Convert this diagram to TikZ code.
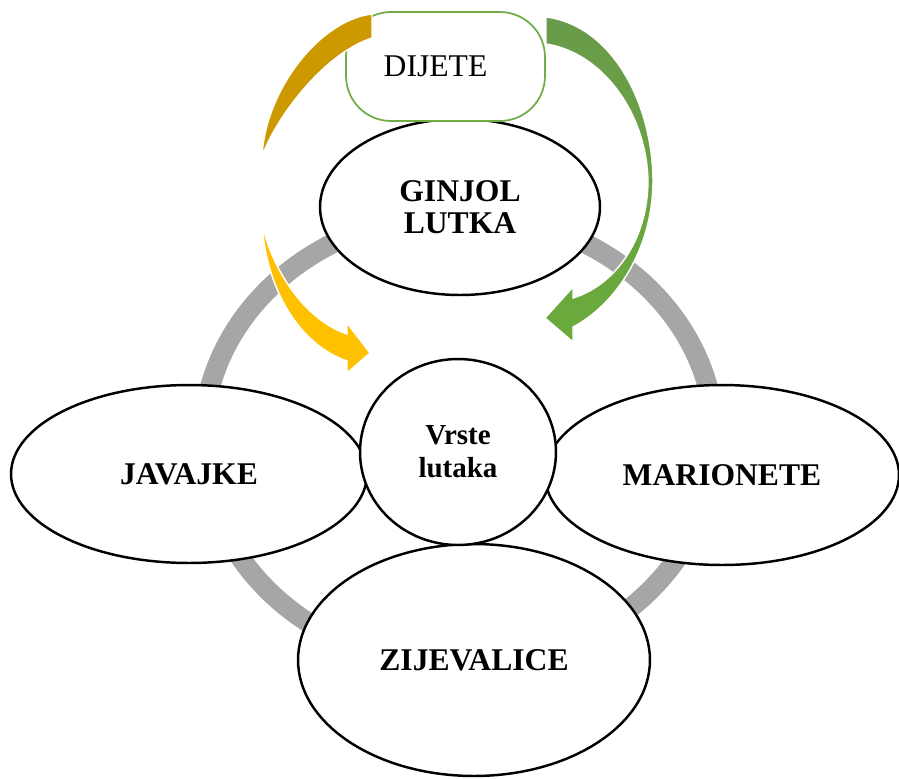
\documentclass[tikz,border=0pt]{standalone}
\usepackage{fontspec}
\setmainfont{Liberation Serif}
\usetikzlibrary{shapes.geometric}
\definecolor{ringgray}{HTML}{A6A6A6}
\definecolor{kidgreen}{HTML}{70AD47}
\definecolor{darkgold}{HTML}{CC9900}
\definecolor{puppetyellow}{HTML}{FFC000}
\definecolor{darkleaf}{HTML}{699B4A}
\definecolor{brightleaf}{HTML}{6AAB3B}
\tikzset{
  puppet/.style={ellipse,draw,fill=white,line width=1.4pt,inner sep=0pt,align=center,
    font=\fontsize{18}{18}\selectfont\bfseries},
  kidbox/.style={rectangle,rounded corners=0.9cm,draw=kidgreen,fill=white,line width=1pt,
    minimum width=3.98cm,minimum height=2.18cm,font=\fontsize{18}{18}\selectfont},
  ring/.style={draw=ringgray,line width=0.4cm},
  bentarrow/.style={draw=white,line width=0.8pt}
}
\begin{document}
\begin{tikzpicture}[x=0.02cm,y=-0.02cm]
\useasboundingbox (0,0) rectangle (899,778);
\draw[ring] (459,440) ellipse [x radius=5.12cm,y radius=4.52cm];

\node[puppet,minimum width=5.6cm,minimum height=3.52cm] (ginjol) at (460,207) {GINJOL\\LUTKA};
\node[puppet,minimum width=7.12cm,minimum height=3.56cm] (javajke) at (189,474) {JAVAJKE};
\node[puppet,minimum width=7.08cm,minimum height=3.6cm] (marionete) at (722,475) {MARIONETE};
\node[puppet,minimum width=7.04cm,minimum height=4.64cm] (zijevalice) at (474,660) {ZIJEVALICE};
\node[puppet,minimum width=3.92cm,minimum height=3.72cm,font=\fontsize{16.5}{18.7}\selectfont\bfseries] (vrste) at (458,452) {Vrste\\lutaka};

\node[kidbox] (dijete) at (445.5,66.5) {DIJETE\rule{0.4cm}{0pt}};

\fill[bentarrow,fill=darkgold] (372,14) .. controls (320,20) and (265,90) .. (262,157)
  .. controls (272,125) and (320,55) .. (372,38) -- cycle;
\fill[bentarrow,fill=puppetyellow] (262,223) .. controls (272,270) and (305,320) .. (347,334)
  -- (347,323) -- (370,353) -- (347,373) -- (347,361)
  .. controls (300,345) and (266,290) .. (262,223) -- cycle;

\shade[bentarrow,top color=darkleaf,bottom color=brightleaf] (546,17) .. controls (610,25) and (652,100) .. (653,180)
  .. controls (653,250) and (615,305) .. (573,327)
  -- (573,342) -- (545,318) -- (573,287) -- (573,298)
  .. controls (615,285) and (648,240) .. (648,180)
  .. controls (646,110) and (600,52) .. (546,44) -- cycle;
\end{tikzpicture}
\end{document}
